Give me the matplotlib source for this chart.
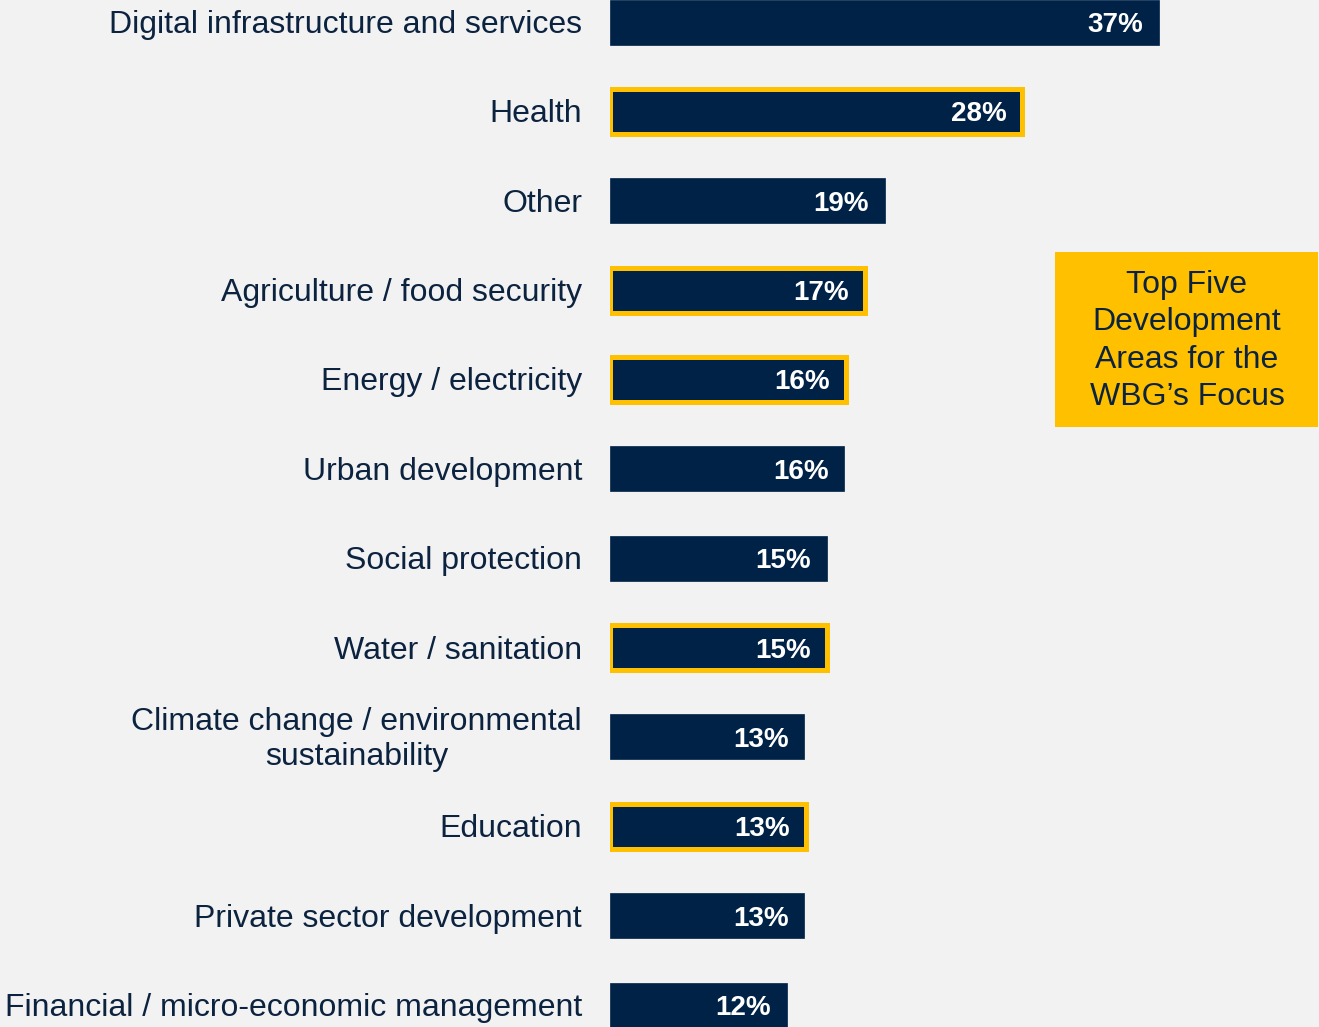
"""Top development areas for the WBG's focus - horizontal bar chart."""

import matplotlib

matplotlib.use("Agg")
import matplotlib.pyplot as plt
from matplotlib.patches import Rectangle

# Data
categories = [
    "Digital infrastructure and services",
    "Health",
    "Other",
    "Agriculture / food security",
    "Energy / electricity",
    "Urban development",
    "Social protection",
    "Water / sanitation",
    "Climate change / environmental\nsustainability",
    "Education",
    "Private sector development",
    "Financial / micro-economic management",
]
shares = [37.0, 27.8, 18.5, 17.2, 15.9, 15.8, 14.6, 14.6, 13.1, 13.2, 13.1, 11.9]
value_labels = ["37%", "28%", "19%", "17%", "16%", "16%", "15%", "15%", "13%", "13%", "13%", "12%"]
top_five = ["Health", "Agriculture / food security", "Energy / electricity",
            "Water / sanitation", "Education"]
callout_text = "Top Five\nDevelopment\nAreas for the\nWBG\u2019s Focus"

# Colours
BG = "#f2f2f2"
NAVY = "#002247"
GOLD = "#ffc000"
TEXT = "#0c2340"

plt.rcParams["font.family"] = ["Liberation Sans", "DejaVu Sans"]

W, H = 1319, 1027
fig = plt.figure(figsize=(W / 100, H / 100), dpi=100, facecolor=BG)

# Axes spans from the bar baseline (x=610px) to the right edge
ax = fig.add_axes([610 / W, 0, 1 - 610 / W, 1])
ax.set_facecolor("none")
px_per_pct = 549 / 37.0
ax.set_xlim(0, (W - 610) / px_per_pct)
pitch = (1005 - 22) / 11
ax.set_ylim((H - 22) / pitch, -22 / pitch)
ax.axis("off")

ypos = list(range(len(categories)))
bar_h = 45 / pitch
nudge = 3 / pitch  # text sits a touch lower than the bbox centre
for y, cat, val, lab in zip(ypos, categories, shares, value_labels):
    hl = cat in top_five
    ax.barh(y, val, height=bar_h, left=0, color=NAVY,
            edgecolor=GOLD if hl else NAVY, linewidth=3.6 if hl else 0.5,
            zorder=2)
    ax.text(val - 16 / px_per_pct, y + nudge, lab, ha="right", va="center",
            color="white", fontsize=20, fontweight="bold", zorder=3)
    ax.text(-28 / px_per_pct, y + nudge, cat, ha="right", va="center",
            multialignment="center", color=TEXT, fontsize=23,
            linespacing=1.22, zorder=3)

# Callout box
fig.patches.append(Rectangle((1055 / W, 1 - 427 / H), (1318 - 1055) / W,
                             (427 - 252) / H, transform=fig.transFigure,
                             facecolor=GOLD, edgecolor="none", zorder=1))
fig.text(1187 / W, 1 - 341 / H, callout_text, ha="center", va="center",
         color=TEXT, fontsize=23, linespacing=1.32)

fig.savefig("out.png", dpi=100, facecolor=BG)
